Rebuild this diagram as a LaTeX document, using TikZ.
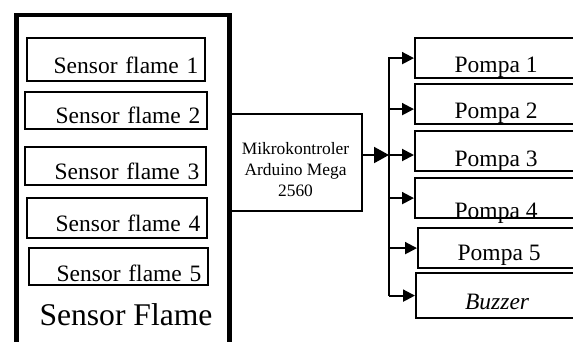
\documentclass[tikz,border=0pt]{standalone}
\usepackage{fontspec}
\setmainfont{Liberation Serif}
\usetikzlibrary{arrows.meta,positioning,calc}
\tikzset{
  frame/.style={draw, line width=4.5pt, minimum width=213pt, minimum height=360pt,
                inner sep=0pt, anchor=north west},
  sbox/.style={draw, line width=2pt, font=\fontsize{23.5}{26}\selectfont, align=right,
               inner xsep=6.5pt, inner ysep=0pt, text depth=0pt, anchor=north west},
  pbox/.style={draw, line width=2.2pt, font=\fontsize{23.5}{26}\selectfont,
               minimum width=162pt, minimum height=40pt, inner sep=0pt,
               text height=#1, text depth=0pt, anchor=north west},
  pbox/.default=28pt,
  mcubox/.style={draw, line width=2pt, font=\fontsize{17.4}{21}\selectfont, align=center,
                 minimum width=133pt, minimum height=97pt, inner sep=0pt,
                 text height=67pt, text depth=0pt, anchor=north west},
  arr/.style={line width=2pt, -{Triangle[length=12pt,width=12pt]}},
  bigarr/.style={line width=2pt, -{Triangle[length=15pt,width=16pt]}},
}

\begin{document}
\begin{tikzpicture}[x=1pt, y=-1pt]
\useasboundingbox (0,0) rectangle (573,341);
\clip (0,0) rectangle (573,341);

% Left block: flame sensors
\node[frame] (sensors) at (14,12.5) {};
\node[sbox, text width=165pt, minimum height=43pt, text height=27pt] (s1) at (26,37) {Sensor flame 1};
\node[sbox, text width=169pt, minimum height=37pt, text height=25pt] (s2) at (24,91) {Sensor flame 2};
\node[sbox, text width=168pt, minimum height=38pt, text height=26pt] (s3) at (24,146) {Sensor flame 3};
\node[sbox, text width=167pt, minimum height=40pt, text height=26pt] (s4) at (26,197) {Sensor flame 4};
\node[sbox, text width=166pt, minimum height=37pt, text height=29pt] (s5) at (28,247) {Sensor flame 5};
\node[font=\fontsize{31.6}{34}\selectfont, anchor=base] (sflabel) at (126,325) {Sensor Flame};

% Middle: controller
\node[mcubox] (mcu) at (228,113) {Mikrokontroler\\Arduino Mega\\2560};

% Right column: outputs
\node[pbox] (p1) at (414,37) {Pompa 1};
\node[pbox] (p2) at (414,83) {Pompa 2};
\node[pbox=30pt] (p3) at (414,130) {Pompa 3};
\node[pbox=40pt] (p4) at (414,177) {Pompa 4};
\node[pbox=24pt] (p5) at (417,227) {Pompa 5};
\node[pbox=27pt, minimum height=45pt] (buz) at (415,272) {\itshape Buzzer};

% Connections
\coordinate (bus) at (389,155);
\draw[bigarr] (mcu.east |- bus) -- (bus);
\draw[arr] (bus |- buz.west) -- (bus |- p1.west) -- (p1.west);
\draw[arr] ([yshift=-5pt]p2.west -| bus) -- ([yshift=-5pt]p2.west);
\draw[arr] (bus) -- (bus -| p3.west);
\draw[arr] (bus |- p4.west) -- (p4.west);
\draw[arr] (bus |- p5.west) -- (p5.west);
\draw[arr] (bus |- buz.west) -- (buz.west);
\end{tikzpicture}
\end{document}
